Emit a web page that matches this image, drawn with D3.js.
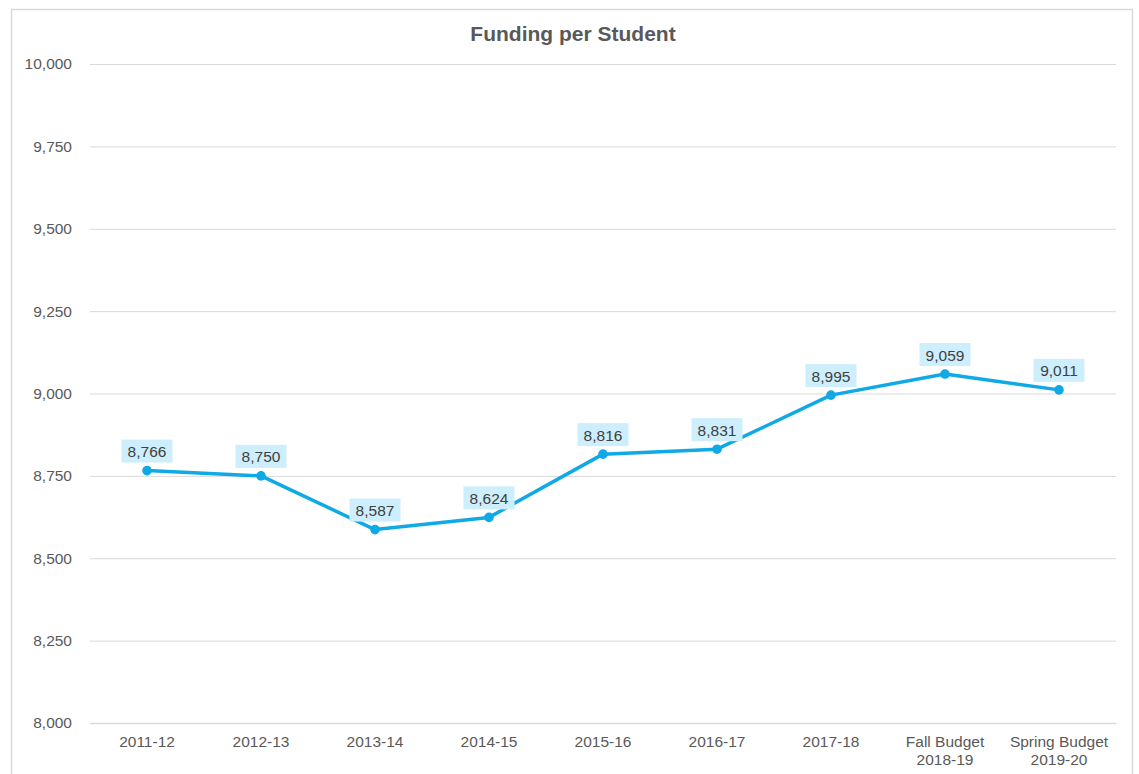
<!DOCTYPE html>
<html>
<head>
<meta charset="utf-8">
<script src="https://cdn.jsdelivr.net/npm/d3@7"></script>
<style>
  html, body { margin: 0; padding: 0; background: #fff; }
  svg { display: block; font-family: "Liberation Sans", Arial, sans-serif; }
</style>
</head>
<body>
<svg id="chart" width="1139" height="774"></svg>
<script>
const categories = [["2011-12"], ["2012-13"], ["2013-14"], ["2014-15"], ["2015-16"], ["2016-17"], ["2017-18"], ["Fall Budget", "2018-19"], ["Spring Budget", "2019-20"]];
const values = [8766, 8750, 8587, 8624, 8816, 8831, 8995, 9059, 9011];
const yTicks = [8000, 8250, 8500, 8750, 9000, 9250, 9500, 9750, 10000];
const title = "Funding per Student";

const svg = d3.select("#chart");
const m = { left: 90, right: 1116, top: 64, bottom: 723 };

// outer frame
svg.append("rect").attr("x", 11.5).attr("y", 9.5).attr("width", 1121).attr("height", 780)
  .attr("fill", "#fff").attr("stroke", "#d9d9d9").attr("stroke-width", 1.5);

const x = d3.scaleBand().domain(categories.map((d, i) => i)).range([m.left, m.right]);
const y = d3.scaleLinear().domain([8000, 10000]).range([m.bottom, m.top]);

// gridlines
svg.append("g").selectAll("line").data(yTicks).join("line")
  .attr("x1", m.left).attr("x2", m.right)
  .attr("y1", d => y(d) + 0.5).attr("y2", d => y(d) + 0.5)
  .attr("stroke", "#d9d9d9").attr("stroke-width", 1);

// y axis
const yAxis = svg.append("g").attr("transform", `translate(${m.left},0)`)
  .call(d3.axisLeft(y).tickValues(yTicks).tickSize(0).tickPadding(18).tickFormat(d3.format(",")));
yAxis.select(".domain").remove();
yAxis.selectAll("text").attr("fill", "#595959").style("font-size", "15.5px")
  .style("font-family", "'Liberation Sans', Arial, sans-serif");

// x axis
const xAxis = svg.append("g").attr("transform", `translate(0,${m.bottom})`)
  .call(d3.axisBottom(x).tickSize(0).tickFormat(() => ""));
xAxis.select(".domain").attr("stroke", "#d9d9d9").attr("stroke-width", 1.5);
xAxis.selectAll(".tick").each(function (d) {
  const t = d3.select(this).select("text")
    .attr("fill", "#595959").style("font-size", "15.5px")
    .style("font-family", "'Liberation Sans', Arial, sans-serif")
    .attr("y", 0).attr("dy", null);
  categories[d].forEach((line, k) => {
    t.append("tspan").attr("x", 0).attr("y", 23.5 + k * 18).text(line);
  });
});

// title
svg.append("text").attr("x", 573).attr("y", 41).attr("text-anchor", "middle")
  .attr("fill", "#595959").style("font-size", "21px").style("font-weight", "bold")
  .text(title);

const cx = i => x(i) + x.bandwidth() / 2;

// line
svg.append("path").datum(values)
  .attr("d", d3.line().x((d, i) => cx(i)).y(d => y(d)))
  .attr("fill", "none").attr("stroke", "#0fa9e6").attr("stroke-width", 3.5)
  .attr("stroke-linejoin", "round");

// markers
svg.append("g").selectAll("circle").data(values).join("circle")
  .attr("cx", (d, i) => cx(i)).attr("cy", d => y(d)).attr("r", 4.8)
  .attr("fill", "#0fa9e6");

// data labels
const fmt = d3.format(",");
const lbl = svg.append("g").selectAll("g").data(values).join("g")
  .attr("transform", (d, i) => `translate(${cx(i)},${y(d)})`);
lbl.append("rect").attr("x", -25.5).attr("y", -31).attr("width", 51).attr("height", 23)
  .attr("fill", "#cdeefc");
lbl.append("text").attr("text-anchor", "middle").attr("y", -13.5)
  .attr("fill", "#404040").style("font-size", "15.5px").text(d => fmt(d));
</script>
</body>
</html>
